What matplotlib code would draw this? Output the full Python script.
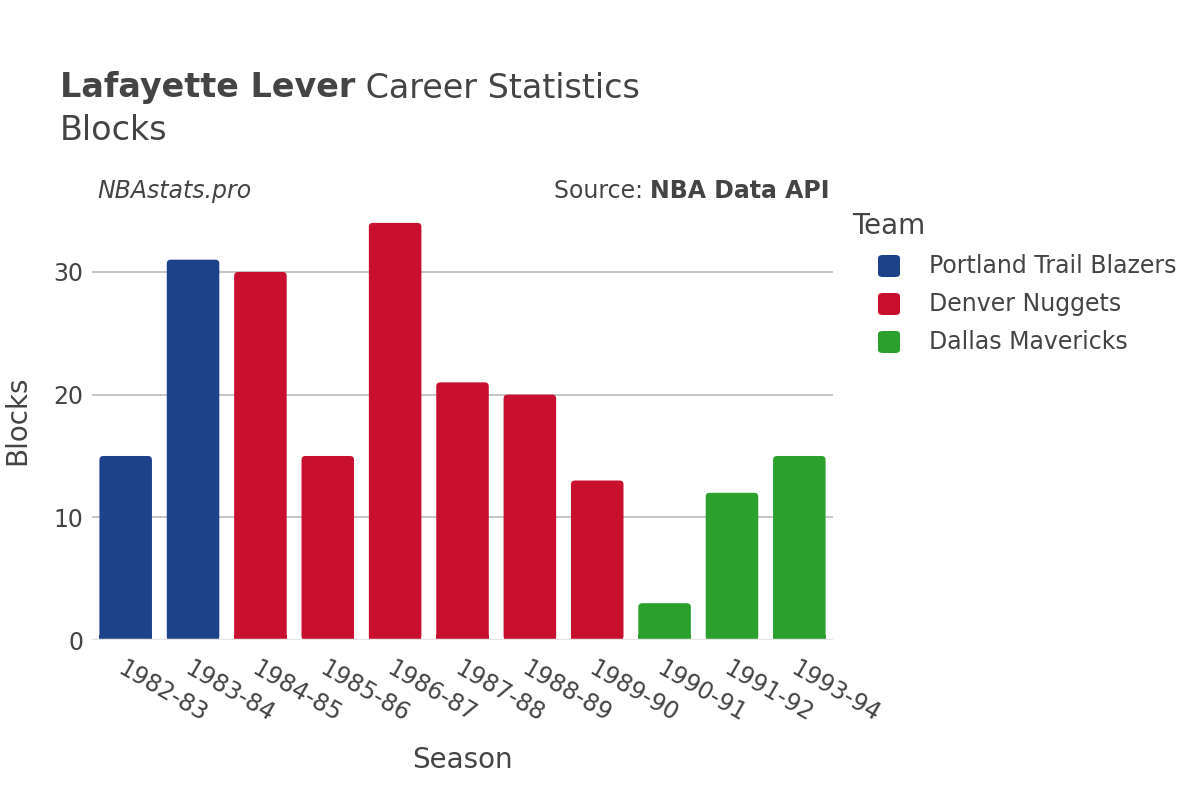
import matplotlib
matplotlib.use("Agg")
import matplotlib.pyplot as plt
from matplotlib.patches import FancyBboxPatch, Rectangle
from matplotlib.transforms import IdentityTransform

seasons = ["1982-83", "1983-84", "1984-85", "1985-86", "1986-87", "1987-88",
           "1988-89", "1989-90", "1990-91", "1991-92", "1993-94"]
blocks = [15, 31, 30, 15, 34, 21, 20, 13, 3, 12, 15]
teams = ["Portland Trail Blazers", "Portland Trail Blazers", "Denver Nuggets",
         "Denver Nuggets", "Denver Nuggets", "Denver Nuggets", "Denver Nuggets",
         "Denver Nuggets", "Dallas Mavericks", "Dallas Mavericks", "Dallas Mavericks"]
team_order = ["Portland Trail Blazers", "Denver Nuggets", "Dallas Mavericks"]
team_colors = {
    "Portland Trail Blazers": "#1d428a",
    "Denver Nuggets": "#c8102e",
    "Dallas Mavericks": "#2ca02c",
}

text_color = "#444444"
plt.rcParams["font.family"] = ["DejaVu Sans"]

W, H = 1200, 800
fig = plt.figure(figsize=(12, 8), dpi=100)
ax = fig.add_axes([92 / W, 0.2, (833 - 92) / W, 0.549])
renderer = fig.canvas.get_renderer()


def px(x, y):
    return x / W, 1 - y / H


def text_run(x, y, parts):
    # draw pieces of text one after another on the same line
    for s, kw in parts:
        t = fig.text(*px(x, y), s, va="center", color=text_color, **kw)
        x += t.get_window_extent(renderer).width
    return x


x = list(range(len(seasons)))
bars = ax.bar(x, blocks, width=0.78, color=[team_colors[t] for t in teams], zorder=3)

ax.set_xlim(-0.5, len(seasons) - 0.5)
ax.set_ylim(0, 35.8)
ax.set_yticks([0, 10, 20, 30])
ax.yaxis.grid(True, color="#bbbbbb", linewidth=1.2, zorder=0)
ax.axhline(0, color="#e5e5e5", linewidth=2.5, zorder=4)
for s in ax.spines.values():
    s.set_visible(False)
ax.tick_params(axis="both", length=0, labelsize=17, colors=text_color)
ax.tick_params(axis="y", pad=6)
ax.set_xticks(x)
ax.set_xticklabels(seasons, rotation=-30, ha="left", rotation_mode="anchor")
ax.tick_params(axis="x", pad=12)

ax.set_xlabel("Season", fontsize=20, color=text_color, labelpad=14)
ax.set_ylabel("Blocks", fontsize=20, color=text_color, labelpad=16)

# rounded tops: swap each bar for a rounded box of the same size (pixels)
r = 4
for b in bars:
    ext = b.get_window_extent(renderer)
    col = b.get_facecolor()
    b.set_visible(False)
    ax.add_artist(FancyBboxPatch((ext.x0, ext.y0), ext.width, ext.height,
                                 boxstyle=f"round,pad=0,rounding_size={r}",
                                 transform=IdentityTransform(), facecolor=col,
                                 edgecolor="none", zorder=3))
    ax.add_artist(Rectangle((ext.x0, ext.y0), ext.width, min(ext.height, r + 1),
                            transform=IdentityTransform(), facecolor=col,
                            edgecolor="none", zorder=3))

text_run(60, 88, [("Lafayette Lever", dict(fontsize=24, fontweight="bold")),
                  (" Career Statistics", dict(fontsize=24))])
fig.text(*px(60, 131), "Blocks", fontsize=24, color=text_color, va="center")

fig.text(*px(97, 191), "NBAstats.pro", fontsize=17, style="italic",
         color=text_color, va="center")
src = fig.text(*px(830, 191), "NBA Data API", fontsize=17, fontweight="bold",
               color=text_color, va="center", ha="right")
src_w = src.get_window_extent(renderer).width
fig.text(*px(830 - src_w, 191), "Source: ", fontsize=17, color=text_color,
         va="center", ha="right")

# legend
fig.text(*px(852, 226), "Team", fontsize=20, color=text_color, va="center")
for i, team in enumerate(team_order):
    y = 266 + 38 * i
    bx, by = px(878, y + 11)
    box = FancyBboxPatch((bx, by), 22 / W, 22 / H,
                         boxstyle="round,pad=0,rounding_size=0.004",
                         transform=fig.transFigure, facecolor=team_colors[team],
                         edgecolor="none")
    fig.patches.append(box)
    fig.text(*px(929, y), team, fontsize=17, color=text_color, va="center")

fig.savefig("out.png", dpi=100)
